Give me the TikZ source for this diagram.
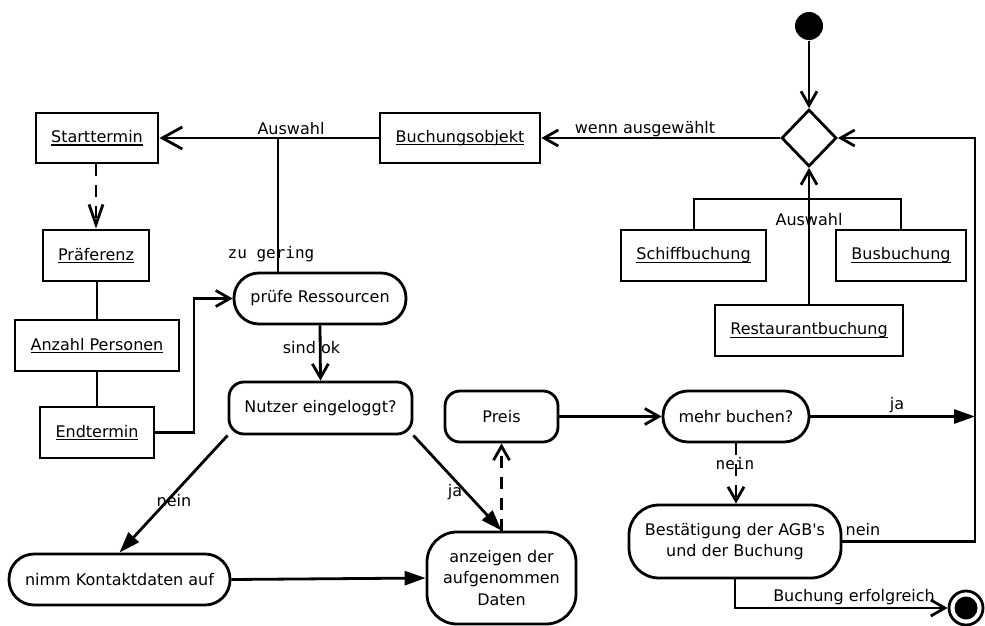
\documentclass[tikz,border=0pt]{standalone}
\usepackage{fontspec}
\setmainfont{DejaVu Sans}
\newfontfamily\monofont{DejaVu Sans Mono}
\usetikzlibrary{arrows.meta,shapes.geometric}

% underlined object name with a fixed rule position below the baseline
\newcommand\uln[1]{\setbox0\hbox{#1}\rlap{\rule[-3pt]{\wd0}{1.2pt}}\box0}

\begin{document}
\begin{tikzpicture}[x=1pt,y=-1pt,
  line width=2.8pt,
  every node/.style={font=\fontsize{16}{21.7}\selectfont, inner sep=0pt},
  objbox/.style={draw, rectangle, minimum height=51pt},
  actbox/.style={draw, rectangle, rounded corners=15pt, minimum height=51pt, align=center},
  stadbox/.style={draw, rectangle, rounded corners=25pt, minimum height=51pt, align=center},
  lbl/.style={anchor=base},
  mlbl/.style={anchor=base, font=\fontsize{16}{19}\monofont},
  open/.style={-{Straight Barb[length=14pt,width=16pt]}},
  bigopen/.style={-{Straight Barb[length=20pt,width=22pt]}},
  filled/.style={-{Triangle[length=21pt,width=14pt]}},
  dashline/.style={dash pattern=on 12pt off 9pt},
]
\useasboundingbox (0,0) rectangle (985,626);

% object nodes
\node[objbox, minimum width=122pt, minimum height=50pt] (start) at (97,138) {\uln{Starttermin}};
\node[objbox, minimum width=106pt] (pref) at (96,255.5) {\uln{Präferenz}};
\node[objbox, minimum width=164pt] (pers) at (97,345.5) {\uln{Anzahl Personen}};
\node[objbox, minimum width=114pt] (endt) at (97,432.5) {\uln{Endtermin}};
\node[objbox, minimum width=160pt, minimum height=50pt] (bobj) at (460,138) {\uln{Buchungsobjekt}};
\node[objbox, minimum width=145pt] (schiff) at (693.5,255.5) {\uln{Schiffbuchung}};
\node[objbox, minimum width=130pt] (bus) at (901,255.5) {\uln{Busbuchung}};
\node[objbox, minimum width=188pt] (rest) at (809,330.5) {\uln{Restaurantbuchung}};

% activity nodes
\node[stadbox, minimum width=172pt] (pruef) at (320,298.5) {prüfe Ressourcen};
\node[actbox, minimum width=183pt, minimum height=52pt] (nutzer) at (320.5,408) {Nutzer eingeloggt?};
\node[stadbox, minimum width=221pt] (nimm) at (119.5,579.5) {nimm Kontaktdaten auf};
\node[actbox, rounded corners=30pt, minimum width=149pt, minimum height=92pt] (anz) at (501.5,578) {anzeigen der\\aufgenommen\\Daten};
\node[actbox, minimum width=113pt] (preis) at (501.5,416.5) {Preis};
\node[stadbox, minimum width=146pt] (mehr) at (736,416.5) {mehr buchen?};
\node[actbox, rounded corners=30pt, minimum width=212pt, minimum height=73pt] (best) at (735,541.5) {Bestätigung der AGB\textquotesingle s\\und der Buchung};

% control nodes
\node[draw, diamond, minimum width=55pt, minimum height=57pt] (dec) at (809,138) {};
\node[circle, fill, minimum size=28pt] (init) at (809,26) {};
\node[circle, draw, minimum size=34pt] (fin) at (966,608) {};
\fill (fin.center) circle (11.5pt);

% junction points
\coordinate (jsel) at (278,138);
\coordinate (jloop) at (975,138);
\coordinate (jend) at (194,432.5);
\coordinate (jbar) at (694,199);

% connectors
\draw[open] (init) -- (dec.north);
\draw[open] (dec.west) -- (bobj.east);
\node[lbl] (lwenn) at (645,133) {wenn ausgewählt};
\draw[bigopen] (bobj.west) -- (start.east);
\node[lbl] (lausw) at (291,134) {Auswahl};
\draw (pruef.north -| jsel) -- (jsel);
\node[mlbl] (lgering) at (271,258) {zu gering};

\draw[dashline, -{Straight Barb[length=20pt,width=14pt]}] (start.south -| pref.north) -- (pref.north);
\draw (pref.south -| pers.north) -- (pers.north);
\draw (pers.south) -- (endt.north);
\draw[open] (endt.east) -- (jend) |- (pruef.west);

\draw[open] (pruef.south) -- (nutzer.north);
\node[lbl] (lok) at (311.5,353) {sind ok};

\draw[filled] (nutzer.south west) -- (nimm.north);
\node[lbl] (lnein1) at (174,506.5) {nein};
\draw[filled] (nimm.east) -- (anz.west);
\draw[filled] (nutzer.south east) -- (anz.north);
\node[lbl] (lja1) at (455,496.5) {ja};
\draw[dashline, open] (anz.north) -- (preis.south);
\draw[open] (preis.east) -- (mehr.west);

\draw[filled] (mehr.east) -- (mehr.east -| jloop);
\node[lbl] (lja2) at (897,409) {ja};
\draw[dashline, open] (mehr.south) -- (mehr.south |- best.north);
\node[mlbl] (lnein2) at (735,469) {nein};
\draw[open] (best.east) -- (best.east -| jloop) -- (jloop) -- (dec.east);
\node[lbl] (lnein3) at (863,535.5) {nein};
\draw[open] (best.south) |- (fin.west);
\node[lbl] (lerf) at (854,601.5) {Buchung erfolgreich};

\draw[open] (rest.north) -- (dec.south);
\node[lbl] (lausw2) at (809,225) {Auswahl};
\draw (schiff.north -| jbar) -- (jbar) -| (bus.north);
\end{tikzpicture}
\end{document}
